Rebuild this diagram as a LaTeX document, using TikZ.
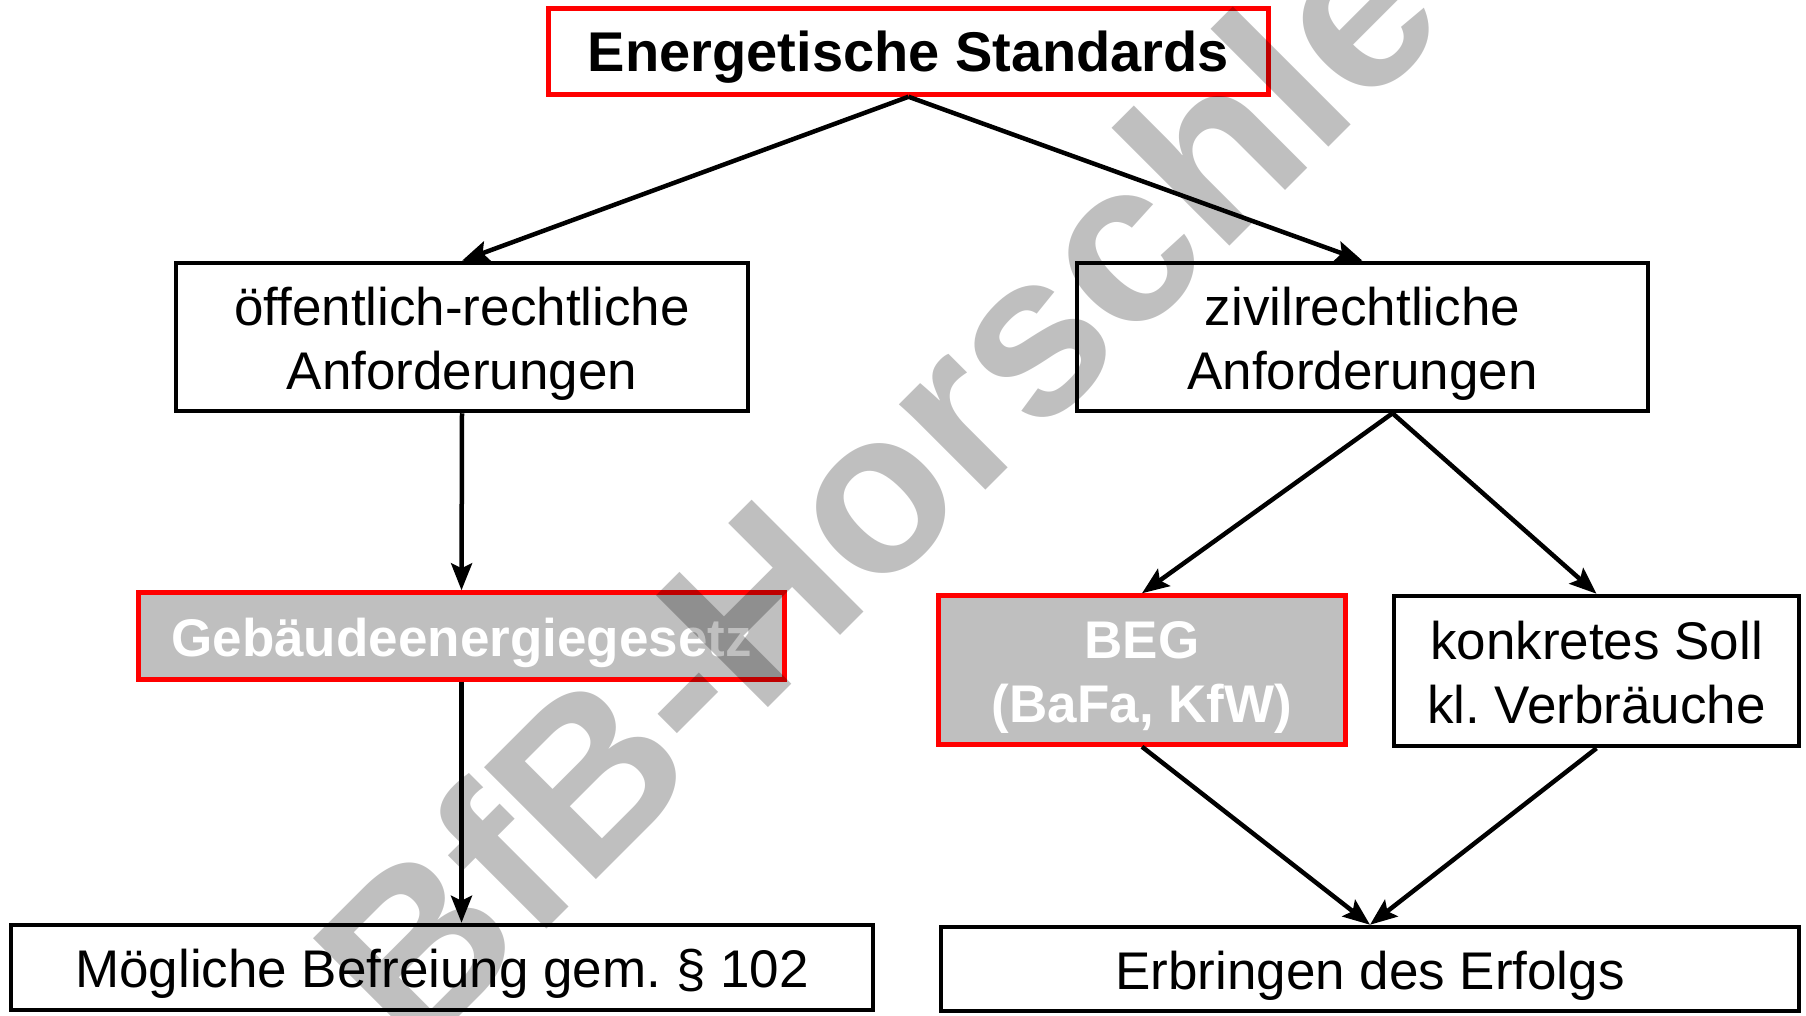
\documentclass[tikz,border=0pt]{standalone}
\usepackage{fontspec}
\setmainfont{Liberation Sans}
\usepackage{xcolor}
\usetikzlibrary{arrows.meta}
\frenchspacing
\definecolor{geggray}{HTML}{BFBFBF}
\tikzset{
  box/.style={draw=black,line width=4.5pt,fill=white,align=center,inner sep=0pt,
    text height=40pt,text depth=0pt,font=\fontsize{53}{63.5}\selectfont},
  twolines/.style={text height=104.5pt,text depth=0pt},
  redbox/.style={box,draw=red,fill=geggray,text=white,
    font=\fontsize{53}{63.5}\selectfont\bfseries},
  titlebox/.style={box,draw=red,font=\fontsize{56}{64}\selectfont\bfseries},
  conn/.style={->,line width=4.5pt},
  wmark/.style={inner sep=0pt,text=black,text opacity=0.25,
    font=\fontsize{230}{230}\selectfont\bfseries}
}

\begin{document}
\begin{tikzpicture}[x=1pt,y=-1pt,>={Stealth[length=27pt,width=21pt,inset=5pt]}]
\useasboundingbox (0,0) rectangle (1806,1016);
\node[titlebox,minimum width=720pt,minimum height=86pt] (std) at (908.5,51.5) {Energetische Standards};
\node[box,twolines,minimum width=572pt,minimum height=148pt] (oeff) at (462,337) {öffentlich-rechtliche\\Anforderungen};
\node[box,twolines,minimum width=571pt,minimum height=148pt] (ziv) at (1362.5,337) {zivilrechtliche\\Anforderungen};
\node[redbox,minimum width=646pt,minimum height=87pt] (geg) at (461.5,636) {Gebäudeenergiegesetz};
\node[redbox,twolines,minimum width=407pt,minimum height=149pt] (beg) at (1142,670) {BEG\\(BaFa, KfW)};
\node[box,twolines,minimum width=405pt,minimum height=150pt] (soll) at (1596.5,671) {konkretes Soll\\kl. Verbräuche};
\node[box,minimum width=862pt,minimum height=85pt] (moeg) at (442,967.5) {Mögliche Befreiung gem. § 102};
\node[box,minimum width=858pt,minimum height=84pt] (erb) at (1370,969) {Erbringen des Erfolgs};
\coordinate (zs) at ([xshift=30pt]ziv.south);

\draw[conn] (std.south) -- (oeff.north);
\draw[conn] (std.south) -- (ziv.north);
\draw[conn] (oeff.south) -- (geg.north);
\draw[conn] (geg.south) -- (geg.south |- moeg.north);
\draw[conn] (zs) -- (beg.north);
\draw[conn] (zs) -- (soll.north);
\draw[conn] (beg.south) -- (erb.north);
\draw[conn] (soll.south) -- (erb.north);

\begin{scope}
\clip (0,0) rectangle (1806,1016);
\node[wmark,rotate=45,anchor=base west] (wm) at (414,1062) {BfB-Horschle};
\end{scope}
\end{tikzpicture}
\end{document}
